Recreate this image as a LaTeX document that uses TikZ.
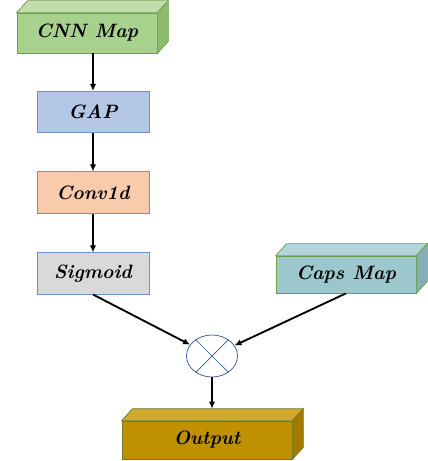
\documentclass[tikz,border=0pt]{standalone}
\usepackage{tikz}
\usetikzlibrary{arrows,arrows.meta,positioning,shapes.geometric}

\definecolor{cnnfront}{HTML}{A9D18E}
\definecolor{cnntop}{HTML}{C0DEAA}
\definecolor{cnnside}{HTML}{8DBB6E}
\definecolor{cnnedge}{HTML}{6E9E4A}
\definecolor{capsfront}{HTML}{9CC7CC}
\definecolor{capstop}{HTML}{B2D5D9}
\definecolor{capsside}{HTML}{82B0B5}
\definecolor{capsedge}{HTML}{6E9E4A}
\definecolor{outfront}{HTML}{BF9000}
\definecolor{outtop}{HTML}{D2A92E}
\definecolor{outside}{HTML}{A27A00}
\definecolor{outedge}{HTML}{6E7A2A}
\definecolor{boxedge}{HTML}{6F8FCF}
\definecolor{gapfill}{HTML}{B4C7E7}
\definecolor{convfill}{HTML}{F8CBAD}
\definecolor{sigfill}{HTML}{D9D9D9}
\definecolor{mulblue}{HTML}{2F5597}

\begin{document}
\begin{tikzpicture}[x=0.03cm,y=-0.03cm,
	lbl/.style={font=\fontsize{16.5}{19}\selectfont\bfseries\itshape, inner sep=0pt},
	flat/.style={lbl, draw=boxedge, line width=0.6pt, fill=#1, minimum width=3.36cm, minimum height=1.24cm},
	cube/.style={lbl, draw=#1edge, line width=0.6pt, fill=#1front},
	>={Latex[length=6pt,width=5.5pt]}]
\useasboundingbox (0,0) rectangle (427,461);

% left column
\node[flat=gapfill] (gap) at (93,112) {GAP};
\node[flat=convfill] (conv) at (93,192.5) {Conv1d};
\node[flat=sigfill] (sig) at (93,273.5) {Sigmoid};

% 3d boxes
\node[cube=cnn, minimum width=4.2cm, minimum height=1.2cm] (cnn) at (87,33) {CNN Map};
\node[cube=caps, minimum width=4.2cm, minimum height=1.11cm] (caps) at (346,274.5) {Caps Map};
\node[cube=out, minimum width=5.1cm, minimum height=1.14cm] (out) at (207,440) {Output};

\foreach \n/\c in {cnn/cnn, caps/caps, out/out} {
	\filldraw[fill=\c top, draw=\c edge, line width=0.6pt] (\n.north west) -- ([shift={(11,-12)}]\n.north west)
		-- ([shift={(11,-12)}]\n.north east) -- (\n.north east) -- cycle;
	\filldraw[fill=\c side, draw=\c edge, line width=0.6pt] (\n.north east) -- ([shift={(11,-12)}]\n.north east)
		-- ([shift={(11,-12)}]\n.south east) -- (\n.south east) -- cycle;
}
\coordinate (outback) at ([shift={(11,-12)}]out.north);

% multiply
\node[ellipse, draw=mulblue, line width=0.6pt, fill=white, minimum width=1.53cm, minimum height=1.26cm] (mul) at (212,356) {};
\draw[mulblue, line width=0.6pt] (mul.45) -- (mul.225);
\draw[mulblue, line width=0.6pt] (mul.135) -- (mul.315);

% arrows
\draw[->, line width=1.6pt] (cnn.south -| gap.north) -- (gap.north);
\draw[->, line width=1.6pt] (gap) -- (conv);
\draw[->, line width=1.6pt] (conv) -- (sig);
\draw[->, line width=1.6pt] (sig.south) -- (mul);
\draw[->, line width=1.6pt] (caps.south) -- (mul);
\draw[->, line width=1.6pt] (mul) -- (mul |- outback);

\end{tikzpicture}
\end{document}
